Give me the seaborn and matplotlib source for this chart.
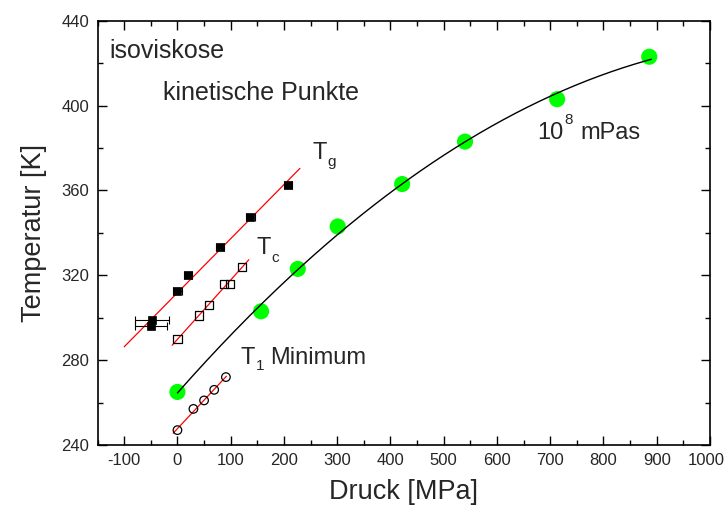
import numpy as np
import pandas as pd
import matplotlib
matplotlib.use("Agg")
import matplotlib.pyplot as plt
from matplotlib.ticker import MultipleLocator
from matplotlib.transforms import ScaledTranslation
import seaborn as sns

# isoviscous points (10^8 mPas)
iso_p = [0, 157, 226, 301, 422, 540, 713, 886]
iso_t = [265, 303, 323, 343, 363, 383, 403, 423]

# glass transition T_g with pressure uncertainty
tg_p = [-50, -47, 0, 20, 80, 137, 208]
tg_t = [296, 299, 312.5, 320, 333.5, 347.5, 362.5]
tg_err = [30, 32, 8, 8, 8, 8, 8]

# T_c
tc_p = [0, 41, 59, 88, 99, 121]
tc_t = [290, 301, 306, 316, 316, 324]

# T_1 minimum
t1_p = [0, 30, 50, 69, 91]
t1_t = [247, 257, 261, 266, 272]

x_ticks = list(range(-100, 1001, 100))
y_ticks = list(range(240, 441, 40))

sns.set_theme(style="ticks")
plt.rcParams["font.family"] = ["Liberation Sans", "DejaVu Sans"]
plt.rcParams["axes.unicode_minus"] = False
plt.rcParams["xtick.direction"] = "in"
plt.rcParams["ytick.direction"] = "in"

fig = plt.figure(figsize=(7.26, 5.12), dpi=100)
ax = fig.add_axes([0.1344, 0.1309, 0.8435, 0.8287])

iso = pd.DataFrame({"p": iso_p, "t": iso_t})
tg = pd.DataFrame({"p": tg_p, "t": tg_t})
tc = pd.DataFrame({"p": tc_p, "t": tc_t})
t1 = pd.DataFrame({"p": t1_p, "t": t1_t})


def fit_line(df, lo, hi, deg=1):
    coef = np.polyfit(df["p"], df["t"], deg)
    p = np.linspace(lo, hi, 200)
    return pd.DataFrame({"p": p, "t": np.polyval(coef, p)})


# green isoviscous points with a smooth polynomial fit
sns.scatterplot(data=iso, x="p", y="t", ax=ax, color="#00ff00", s=135,
                edgecolor="none", zorder=3)
sns.lineplot(data=fit_line(iso, 0, 890, deg=2), x="p", y="t", ax=ax,
             color="black", lw=1.0, zorder=4)

# linear fits for the kinetic points
sns.lineplot(data=fit_line(tg, -100, 230), x="p", y="t", ax=ax,
             color="#ff0000", lw=0.9, zorder=2)
sns.lineplot(data=fit_line(tc, -10, 134), x="p", y="t", ax=ax,
             color="#ff0000", lw=0.9, zorder=2)
sns.lineplot(data=fit_line(t1, -8, 92), x="p", y="t", ax=ax,
             color="#ff0000", lw=0.9, zorder=2)

ax.errorbar(tg_p, tg_t, xerr=tg_err, fmt="none", ecolor="black",
            elinewidth=0.8, capsize=3, capthick=0.8, zorder=3)
sns.scatterplot(data=tg, x="p", y="t", ax=ax, marker="s", color="black",
                s=40, edgecolor="black", zorder=4)
sns.scatterplot(data=tc, x="p", y="t", ax=ax, marker="s", facecolor="none",
                edgecolor="black", linewidth=0.9, s=36, zorder=4)
sns.scatterplot(data=t1, x="p", y="t", ax=ax, marker="o", facecolor="none",
                edgecolor="black", linewidth=0.9, s=38, zorder=4)

ax.set_xlim(-150, 1000)
ax.set_ylim(240, 440)
ax.set_xticks(x_ticks)
ax.set_yticks(y_ticks)
ax.xaxis.set_minor_locator(MultipleLocator(50))
ax.yaxis.set_minor_locator(MultipleLocator(20))
ax.tick_params(which="both", top=True, right=True, color="black",
               labelsize=12, width=1.0, pad=6)
ax.tick_params(which="major", length=6.5)
ax.tick_params(which="minor", length=3.5)
for sp in ax.spines.values():
    sp.set_visible(True)
    sp.set_linewidth(1.2)
    sp.set_color("black")

# nudge the rightmost tick label so it stays inside the canvas
last = ax.get_xticklabels()[-1]
last.set_transform(last.get_transform()
                   + ScaledTranslation(-4 / 100, 0, fig.dpi_scale_trans))

ax.set_xlabel("Druck [MPa]", fontsize=19.5, labelpad=8)
ax.set_ylabel("Temperatur [K]", fontsize=19.5, labelpad=10)

big = 17
small = 11
ax.text(-127, 422.3, "isoviskose", fontsize=18, ha="left", va="baseline")
ax.text(-27, 402.4, "kinetische Punkte", fontsize=18, ha="left", va="baseline")

ax.text(253, 374.9, "T", fontsize=big, ha="left", va="baseline")
ax.text(281, 371.3, "g", fontsize=small, ha="left", va="baseline")

ax.text(149, 329.9, "T", fontsize=big, ha="left", va="baseline")
ax.text(177, 326.3, "c", fontsize=small, ha="left", va="baseline")

ax.text(119, 278.4, "T", fontsize=big, ha="left", va="baseline")
ax.text(148, 275.3, "1", fontsize=small, ha="left", va="baseline")
ax.text(174, 278.4, "Minimum", fontsize=big, ha="left", va="baseline")

ax.text(676, 384.3, "10", fontsize=big, ha="left", va="baseline")
ax.text(727, 391.5, "8", fontsize=small, ha="left", va="baseline")
ax.text(756, 384.3, "mPas", fontsize=big, ha="left", va="baseline")

fig.savefig("out.png", dpi=100)
